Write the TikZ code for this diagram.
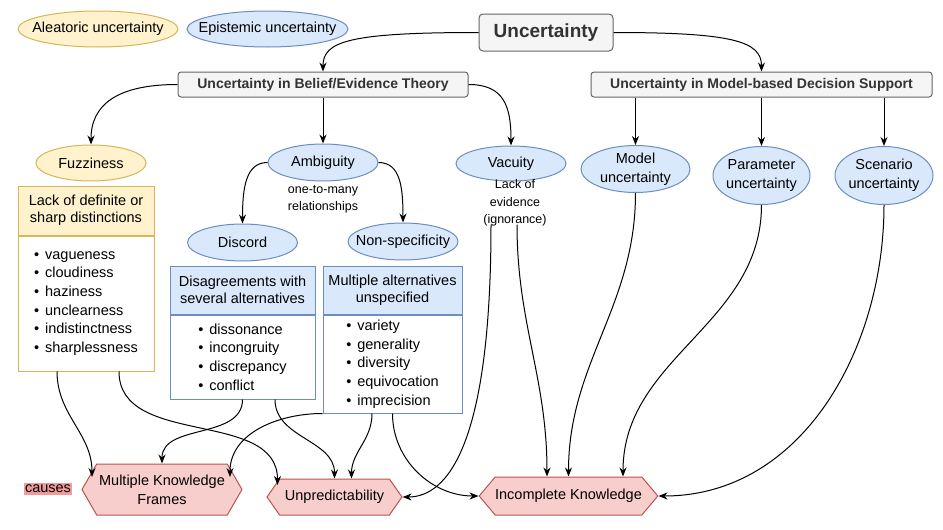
\documentclass[tikz,border=0pt]{standalone}
\usepackage{fontspec}
\setmainfont{Liberation Sans}
\usetikzlibrary{shapes.geometric,shapes.symbols,arrows.meta,calc}

\definecolor{bluefill}{HTML}{DAE8FC}
\definecolor{blueline}{HTML}{6C8EBF}
\definecolor{yellowfill}{HTML}{FFF2CC}
\definecolor{yellowline}{HTML}{D6B656}
\definecolor{redfill}{HTML}{F8CECC}
\definecolor{redline}{HTML}{B85450}
\definecolor{causefill}{HTML}{F19C99}
\definecolor{grayfill}{HTML}{F5F5F5}
\definecolor{grayline}{HTML}{666666}
\definecolor{graytext}{HTML}{333333}

\newcommand{\bul}[1]{\makebox[11pt][l]{\textbullet}#1}

\begin{document}
\begin{tikzpicture}[x=1pt,y=1pt,
    every node/.style={font=\fontsize{14.5}{18.7}\selectfont,inner sep=0pt},
    blueell/.style={ellipse,draw=blueline,fill=bluefill,line width=1pt,align=center,inner xsep=-15pt,inner ysep=-3pt},
    yellowell/.style={ellipse,draw=yellowline,fill=yellowfill,line width=1pt,align=center,inner xsep=-15pt,inner ysep=-3pt},
    topbox/.style={rectangle,rounded corners=3pt,draw=grayline,fill=grayfill,text=graytext,line width=1pt,font=\bfseries\fontsize{14}{16}\selectfont},
    hexa/.style={signal,signal to=west and east,draw=redline,fill=redfill,line width=1pt,align=center},
    headbox/.style={rectangle,line width=1pt,align=center,font=\fontsize{14.5}{17}\selectfont},
    listbox/.style={rectangle,fill=white,line width=1pt,align=left,anchor=north},
    note/.style={align=center,font=\fontsize{12.5}{17.5}\selectfont},
    link/.style={-{Stealth[length=9pt,width=7pt]},line width=1pt}]
    \useasboundingbox (0,0) rectangle (943,-530);
    % Legend
    \node[yellowell,minimum width=160pt,minimum height=36pt] (alea) at (98,-29) {Aleatoric uncertainty};
    \node[blueell,minimum width=161pt,minimum height=36pt] (epis) at (267.5,-29) {Epistemic uncertainty};
    % Root and the two branches
    \node[topbox,minimum width=134pt,minimum height=37pt,rounded corners=4pt,font=\bfseries\fontsize{19}{22}\selectfont] (unc) at (546,-32.5) {Uncertainty};
    \node[topbox,minimum width=290pt,minimum height=25pt] (blf) at (323,-84.5) {Uncertainty in Belief/Evidence Theory};
    \node[topbox,minimum width=341pt,minimum height=25pt] (mds) at (761.5,-84.5) {Uncertainty in Model-based Decision Support};
    % Belief/evidence types
    \node[yellowell,minimum width=110pt,minimum height=36pt] (fuz) at (91,-163) {Fuzziness};
    \node[blueell,minimum width=110pt,minimum height=37pt] (amb) at (323,-162.5) {Ambiguity};
    \node[blueell,minimum width=110pt,minimum height=35pt] (vac) at (511,-163.5) {Vacuity};
    \node[note] (ambnote) at (323,-199.5) {one-to-many\\relationships};
    \node[note] (vacnote) at (515,-203) {Lack of\\evidence\\(ignorance)};
    \node[blueell,minimum width=110pt,minimum height=37pt] (dis) at (242.5,-242.5) {Discord};
    \node[blueell,minimum width=110pt,minimum height=37pt] (nsp) at (403,-241.5) {Non-specificity};
    % Model-based types
    \node[blueell,minimum width=109pt,minimum height=47pt] (munc) at (635.5,-169) {Model\\uncertainty};
    \node[blueell,minimum width=97pt,minimum height=58pt] (punc) at (761.5,-175.5) {Parameter\\uncertainty};
    \node[blueell,minimum width=98pt,minimum height=58pt] (sunc) at (884,-175.5) {Scenario\\uncertainty};
    % Description boxes
    \node[headbox,draw=yellowline,fill=yellowfill,minimum width=136pt,minimum height=49pt] (fuzh) at (86,-210.5) {Lack of definite or\\sharp distinctions};
    \node[listbox,draw=yellowline,minimum width=136pt,minimum height=135pt] (fuzb) at (fuzh.south) {\bul{vagueness}\\\bul{cloudiness}\\\bul{haziness}\\\bul{unclearness}\\\bul{indistinctness}\\\bul{sharplessness}};
    \node[headbox,draw=blueline,fill=bluefill,minimum width=145pt,minimum height=48pt] (dish) at (242.5,-290) {Disagreements with\\several alternatives};
    \node[listbox,draw=blueline,minimum width=145pt,minimum height=84pt] (disb) at (dish.south) {\bul{dissonance}\\\bul{incongruity}\\\bul{discrepancy}\\\bul{conflict}};
    \node[headbox,draw=blueline,fill=bluefill,minimum width=139pt,minimum height=48pt] (nsph) at (392.5,-290) {Multiple alternatives\\unspecified};
    \node[listbox,draw=blueline,minimum width=139pt,minimum height=98pt] (nspb) at (nsph.south) {\bul{variety}\\\bul{generality}\\\bul{diversity}\\\bul{equivocation}\\\bul{imprecision}};
    % Causes
    \node[fill=causefill,inner xsep=1pt,inner ysep=2pt] (cause) at (48,-489) {causes};
    \node[hexa,minimum width=160pt,minimum height=51pt,signal pointer angle=120] (mkf) at (162,-489.5) {Multiple Knowledge\\Frames};
    \node[hexa,minimum width=135pt,minimum height=36pt,signal pointer angle=110] (unp) at (334.5,-497) {Unpredictability};
    \node[hexa,minimum width=177pt,minimum height=38pt,signal pointer angle=100] (ik) at (568.5,-496) {Incomplete Knowledge};
    % Root to branches
    \draw[link] (unc.west) .. controls +(-130,0) and +(0,30) .. (blf.north);
    \draw[link] (unc.east) .. controls +(120,0) and +(0,30) .. (mds.north);
    % Belief/evidence branches
    \draw[link] (blf.west) .. controls +(-60,0) and +(0,40) .. (fuz.north);
    \draw[link] (blf.south) -- (amb.north);
    \draw[link] (blf.east) .. controls +(35,0) and +(0,40) .. (vac.north);
    \draw[link] (amb.west) .. controls +(-22,0) and +(0,35) .. (dis.north);
    \draw[link] (amb.east) .. controls +(22,0) and +(0,35) .. (nsp.north);
    % Model-based branches
    \draw[link] (munc.north |- mds.south) -- (munc.north);
    \draw[link] (punc.north |- mds.south) -- (punc.north);
    \draw[link] (sunc.north |- mds.south) -- (sunc.north);
    % Into the causes
    \draw[link] ($(fuzb.south)+(-29,0)$) to[out=-90,in=90] ($(mkf.center)+(-70,12.5)$);
    \draw[link] ($(fuzb.south)+(33,0)$) to[out=-90,in=90] ($(unp.center)+(-57,12)$);
    \draw[link] (disb.south) to[out=-90,in=90] (mkf.north);
    \draw[link] ($(disb.south)+(32.5,0)$) to[out=-90,in=90] (unp.north);
    \draw[link] (nspb.south west) to[out=180,in=90] ($(mkf.center)+(68,12.5)$);
    \draw[link] ($(nspb.south)+(-20.5,0)$) to[out=-90,in=90] ($(unp.north)+(17,0)$);
    \draw[link] (nspb.south) to[out=-90,in=180] (ik.west);
    \draw[link] ($(vacnote.south)+(-24,2)$) .. controls +(0,-220) and +(45,0) .. (unp.east);
    \draw[link] ($(vacnote.south)+(2,2)$) to[out=-90,in=90] ($(ik.north)+(-21.5,0)$);
    \draw[link] (munc.south) to[out=-90,in=90] (ik.north);
    \draw[link] (punc.south) to[out=-90,in=90] ($(ik.north)+(54.5,0)$);
    \draw[link] (sunc.south) to[out=-90,in=0] (ik.east);
\end{tikzpicture}
\end{document}
